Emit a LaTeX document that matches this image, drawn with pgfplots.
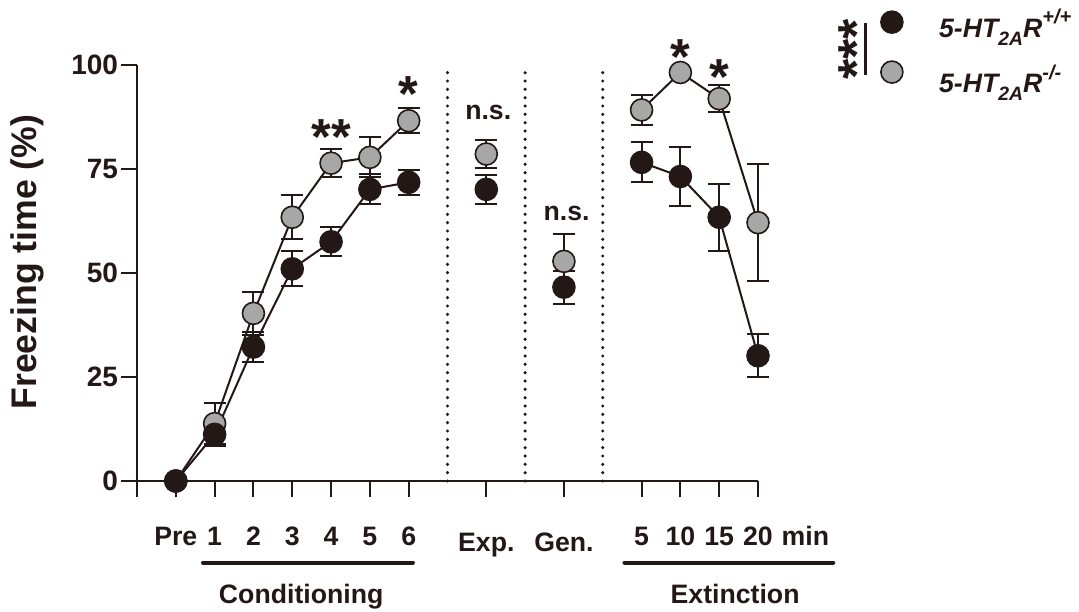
\documentclass[border=0pt]{standalone}
\usepackage{fontspec}
\setmainfont{Liberation Sans}
\usepackage{pgfplots}
\pgfplotsset{compat=1.18}
\usepackage{pgfplotstable}
\definecolor{dk}{RGB}{35,24,21}
\definecolor{gfill}{RGB}{167,167,167}
\newcommand{\fs}[1]{\fontsize{#1}{#1}\selectfont\bfseries}

% knockout 5-HT2AR-/- (gray)
\pgfplotstableread{
x y e
0 0 0
1 13.8 4.9
2 40.3 5.2
3 63.4 5.3
4 76.4 3.4
5 77.8 4.8
6 86.6 3.0
7 nan 0
8 78.6 3.3
9 nan 0
10 52.8 6.6
11 nan 0
12 89.2 3.6
13 98.2 0
14 91.9 3.3
15 62.1 14.0
}\ko
% wild type 5-HT2AR+/+ (black)
\pgfplotstableread{
x y e
0 0 0
1 11.2 2.7
2 32.2 3.5
3 51.0 4.2
4 57.5 3.5
5 70.1 3.6
6 71.8 3.0
7 nan 0
8 70.1 3.4
9 nan 0
10 46.6 4.0
11 nan 0
12 76.6 4.8
13 73.2 7.1
14 63.4 8.1
15 30.1 5.2
}\wt

\begin{document}
\begin{tikzpicture}
\begin{axis}[
  at={(0,0)}, anchor=south west,
  scale only axis, width=465.75pt, height=312pt,
  xmin=-1, xmax=15, ymin=0, ymax=100,
  clip=false,
  axis lines*=left,
  axis line style={line width=1.5pt, color=dk},
  every tick/.style={line width=1.5pt, color=dk},
  tick align=outside, major tick length=12pt,
  xtick={-1,0,1,2,3,4,5,6,8,10,12,13,14,15},
  xticklabels={,Pre,1,2,3,4,5,6,\raisebox{-5pt}{Exp.},\raisebox{-5pt}{Gen.},5,10,15,20},
  ytick={0,25,50,75,100},
  yticklabel style={font=\fs{21}, text=dk, /pgf/number format/assume math mode=true, inner xsep=2pt},
  xticklabel style={font=\fs{20}, text=dk, anchor=base, yshift=-36pt},
  ylabel={Freezing time (\%)},
  ylabel style={font=\fs{26.7}, text=dk, at={(axis description cs:-0.177,0.526)}, anchor=center},
  unbounded coords=jump,
  error bars/error bar style={line width=1.5pt, color=dk},
  error bars/error mark options={rotate=90, mark size=8.25pt, line width=1.5pt, color=dk},
]
% dotted separators
\addplot[dk, line width=2.6pt, dash pattern=on 0pt off 6.25pt, line cap=round, forget plot] coordinates {(7,0) (7,100)};
\addplot[dk, line width=2.6pt, dash pattern=on 0pt off 6.25pt, line cap=round, forget plot] coordinates {(9,0) (9,100)};
\addplot[dk, line width=2.6pt, dash pattern=on 0pt off 6.25pt, line cap=round, forget plot] coordinates {(11,0) (11,100)};

\addplot[dk, line width=1.5pt, mark=*, mark size=8.25pt,
  mark options={fill=gfill, draw=dk, line width=1.2pt},
  error bars/.cd, y dir=both, y explicit]
  table[x=x, y=y, y error=e] {\ko};
\addplot[dk, line width=1.5pt, mark=*, mark size=8.25pt,
  mark options={fill=dk, draw=dk, line width=1.2pt},
  error bars/.cd, y dir=both, y explicit]
  table[x=x, y=y, y error=e] {\wt};

% significance marks
\node[font=\fs{38}, text=dk, anchor=base, inner sep=0pt] at (axis cs:6,95.9) [yshift=-22pt] {*};
\node[font=\fs{38}, text=dk, anchor=base, inner sep=0pt] at (axis cs:4,85.6) [yshift=-22pt] {**};
\node[font=\fs{38}, text=dk, anchor=base, inner sep=0pt] at (axis cs:13,104.8) [yshift=-22pt] {*};
\node[font=\fs{38}, text=dk, anchor=base, inner sep=0pt] at (axis cs:14,100) [yshift=-22pt] {*};
\node[font=\fs{20}, text=dk, inner sep=0pt] at (axis cs:8.05,88.5) {n.s.};
\node[font=\fs{20}, text=dk, inner sep=0pt] at (axis cs:10.07,64.4) {n.s.};

% group labels
\node[font=\fs{20}, text=dk, anchor=base, inner sep=0pt] at (axis cs:16.22,-15.4) {min};
\addplot[dk, line width=3pt, line cap=round, forget plot] coordinates {(0.70,-19.6) (6.11,-19.6)};
\addplot[dk, line width=3pt, line cap=round, forget plot] coordinates {(11.56,-19.6) (16.94,-19.6)};
\node[font=\fs{20}, text=dk, anchor=base, inner sep=0pt] at (axis cs:3.23,-29.4) {Conditioning};
\node[font=\fs{20}, text=dk, anchor=base, inner sep=0pt] at (axis cs:14.41,-29.4) {Extinction};

% legend
\addplot[only marks, mark=*, mark size=8.25pt, mark options={fill=dk, draw=dk, line width=1.2pt}, forget plot] coordinates {(18.45,110.3)};
\addplot[only marks, mark=*, mark size=8.25pt, mark options={fill=gfill, draw=dk, line width=1.2pt}, forget plot] coordinates {(18.45,98.3)};
\addplot[dk, line width=2.2pt, forget plot] coordinates {(17.78,110.2) (17.78,97.6)};
\node[font=\fs{39}, text=dk, rotate=90, anchor=base, inner sep=0pt] at (axis cs:18.0,103.8) {***};
\node[font=\fontsize{20}{20}\selectfont\bfseries\itshape, text=dk, anchor=base west, inner sep=0pt] at (axis cs:19.66,106.7)
  {5-HT\raisebox{-0.3em}{\fontsize{14.5}{14.5}\selectfont 2A}R\raisebox{0.5em}{\fontsize{15}{15}\selectfont +/+}};
\node[font=\fontsize{20}{20}\selectfont\bfseries\itshape, text=dk, anchor=base west, inner sep=0pt] at (axis cs:19.66,93.3)
  {5-HT\raisebox{-0.3em}{\fontsize{14.5}{14.5}\selectfont 2A}R\raisebox{0.5em}{\fontsize{15}{15}\selectfont -/-}};
\end{axis}
\pgfresetboundingbox
\path[use as bounding box] (-102.75pt,-97.5pt) rectangle (706.5pt,360.75pt);
\end{tikzpicture}
\end{document}
